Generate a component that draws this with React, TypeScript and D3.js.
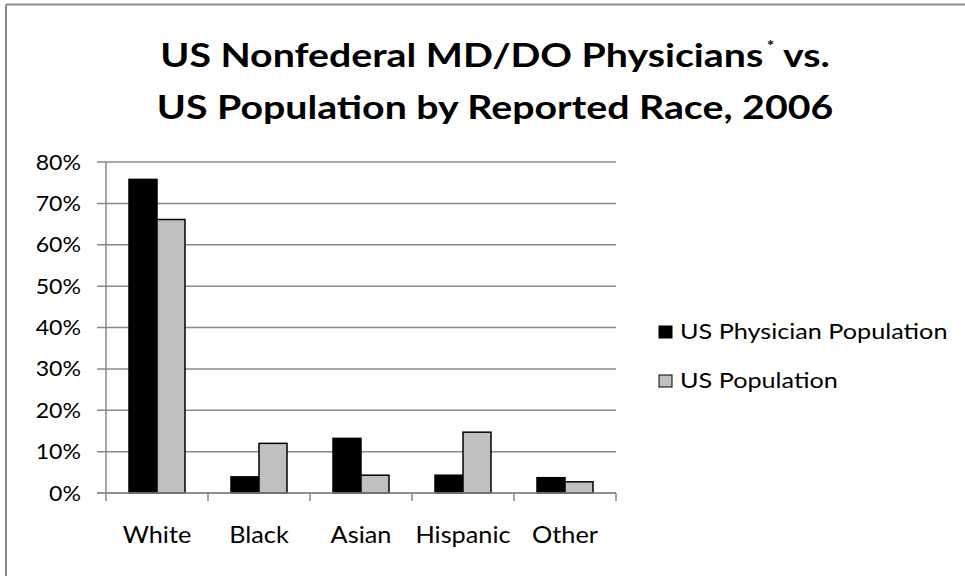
import React from 'react'
import * as d3 from 'd3'

const categories = ['White', 'Black', 'Asian', 'Hispanic', 'Other']
const physicians = [75.8, 3.9, 13.2, 4.3, 3.7]
const population = [66.1, 12.0, 4.3, 14.7, 2.7]
const seriesNames = ['US Physician Population', 'US Population']
const yTicks = [0, 10, 20, 30, 40, 50, 60, 70, 80]

const W = 965
const H = 576
const font = 'Lato, Carlito, Calibri, sans-serif'

// the reference text is a bit stretched sideways, so each text group gets an x scale
function T(props: { x: number; y: number; sx: number; size: number; anchor?: string; bold?: boolean; children: React.ReactNode }) {
	return (
		<text transform={`translate(${props.x},${props.y}) scale(${props.sx},1)`} textAnchor={props.anchor || 'start'}
			fontFamily={font} fontSize={props.size} fontWeight={props.bold ? 'bold' : 'normal'} fill='#000'>
			{props.children}
		</text>
	)
}

export default function App() {
	const x = d3.scaleBand().domain(categories).range([106, 616])
	const y = d3.scaleLinear().domain([0, 80]).range([493, 162])
	const barW = 28
	const colors = ['#000000', '#c0c0c0']
	const series = [physicians, population]
	const grid = '#888'

	return (
		<svg width={W} height={H} style={{ position: 'absolute', left: 0, top: 0, background: '#fff' }}>
			{/* frame: only top and left edges show */}
			<line x1={6} x2={W} y1={4.5} y2={4.5} stroke='#8c8c8c' strokeWidth={2} />
			<line x1={6} x2={6} y1={4.5} y2={H} stroke='#8c8c8c' strokeWidth={2} />

			<T x={495} y={67} sx={1.19} size={33} anchor='middle' bold>
				US Nonfederal MD/DO Physicians<tspan fontSize={15} dx={3} dy={-16}>*</tspan><tspan dy={16}> vs.</tspan>
			</T>
			<T x={495} y={119} sx={1.19} size={33} anchor='middle' bold>US Population by Reported Race, 2006</T>

			{yTicks.map(t => (
				<g key={t}>
					<line x1={97} x2={616} y1={y(t)} y2={y(t)} stroke={grid} strokeWidth={1.5} />
					<T x={81} y={y(t) + 7.5} sx={1.1} size={21} anchor='end'>{t + '%'}</T>
				</g>
			))}

			{series.map((vals, s) => vals.map((v, i) => {
				const cx = x(categories[i])! + x.bandwidth() / 2
				return (
					<rect key={s + '-' + i} x={cx - barW + s * barW} y={y(v)} width={barW} height={y(0) - y(v)}
						fill={colors[s]} stroke='#000' strokeWidth={1.5} />
				)
			}))}

			<line x1={106} x2={106} y1={162} y2={493} stroke={grid} strokeWidth={1.5} />
			<line x1={97} x2={616} y1={493} y2={493} stroke={grid} strokeWidth={1.5} />
			{categories.map(c => (
				<line key={c} x1={x(c)!} x2={x(c)!} y1={493} y2={501} stroke={grid} strokeWidth={1.5} />
			))}
			<line x1={616} x2={616} y1={493} y2={501} stroke={grid} strokeWidth={1.5} />

			{categories.map(c => (
				<T key={c} x={x(c)! + x.bandwidth() / 2} y={543} sx={1.1} size={23} anchor='middle'>{c}</T>
			))}

			{seriesNames.map((n, i) => (
				<g key={n}>
					<rect x={659} y={326 + i * 49} width={13} height={12} fill={colors[i]} stroke='#000' strokeWidth={1} />
					<T x={680} y={339 + i * 49} sx={1.23} size={20.5}>{n}</T>
				</g>
			))}
		</svg>
	)
}
